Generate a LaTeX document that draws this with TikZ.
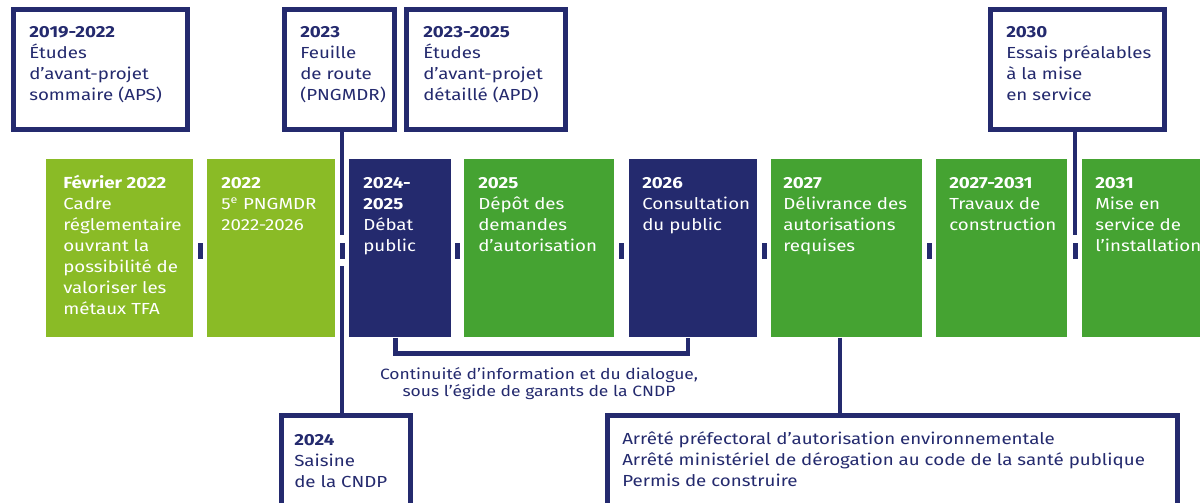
\documentclass[tikz,border=0pt]{standalone}
\usepackage{fontspec}
\setmainfont{Fira Sans}[FakeStretch=1.17]
\definecolor{navy}{RGB}{36,42,110}
\definecolor{lgreen}{RGB}{138,187,38}
\definecolor{dgreen}{RGB}{69,163,50}
\newcommand\fl{\rule{0pt}{13pt}}
\begin{document}
\begin{tikzpicture}[x=0.75pt,y=-0.75pt,
  txt/.style={anchor=north west,inner sep=0pt,align=left,font=\fontsize{12}{15.75}\selectfont},
  wtxt/.style={txt,text=white},
  ntxt/.style={txt,text=navy},
  outl/.style={draw=navy,line width=3.4pt,fill=white},
  conn/.style={draw=navy,line width=3.2pt},
  tick/.style={fill=navy,draw=none,minimum width=3.75pt,minimum height=12pt,inner sep=0pt},
  fbox/.style={draw=none,inner sep=0pt,anchor=north west,minimum height=133.5pt}]
\useasboundingbox (0,0) rectangle (1200,503);
% top outlined boxes
\node[outl,inner sep=0pt,anchor=north west,minimum width=130.5pt,minimum height=90pt] (A) at (11,7) {};
\node[outl,inner sep=0pt,anchor=north west,minimum width=82.5pt,minimum height=90pt] (B) at (282,7) {};
\node[outl,inner sep=0pt,anchor=north west,minimum width=119.25pt,minimum height=90pt] (C) at (404,7) {};
\node[outl,inner sep=0pt,anchor=north west,minimum width=130.5pt,minimum height=90pt] (D) at (988,7) {};
\node[ntxt] (tA) at (29,19.67) {\fl\textbf{2019-2022}\\Études\\d’avant-projet\\sommaire (APS)};
\node[ntxt] (tB) at (300,19.67) {\fl\textbf{2023}\\Feuille\\de route\\(PNGMDR)};
\node[ntxt] (tC) at (423,19.67) {\fl\textbf{2023-2025}\\Études\\d’avant-projet\\détaillé (APD)};
\node[ntxt] (tD) at (1006,19.67) {\fl\textbf{2030}\\Essais préalables\\à la mise\\en service};
% filled boxes
\node[fbox,fill=lgreen,minimum width=110.25pt] (b1) at (46,159) {};
\node[fbox,fill=lgreen,minimum width=96pt] (b2) at (207,159) {};
\node[fbox,fill=navy,minimum width=76.5pt] (b3) at (349,159) {};
\node[fbox,fill=dgreen,minimum width=112.5pt] (b4) at (464,159) {};
\node[fbox,fill=navy,minimum width=96pt] (b5) at (629,159) {};
\node[fbox,fill=dgreen,minimum width=113.25pt] (b6) at (771,159) {};
\node[fbox,fill=dgreen,minimum width=98.25pt] (b7) at (936,159) {};
\node[fbox,fill=dgreen,minimum width=90pt] (b8) at (1082,159) {};
\node[wtxt] (t1) at (63,170.67) {\fl\textbf{Février 2022}\\Cadre\\réglementaire\\ouvrant la\\possibilité de\\valoriser les\\métaux TFA};
\node[wtxt] (t2) at (221,170.67) {\fl\textbf{2022}\\5\textsuperscript{e} PNGMDR\\2022-2026};
\node[wtxt] (t3) at (363,170.67) {\fl\textbf{2024-}\\\textbf{2025}\\Débat\\public};
\node[wtxt] (t4) at (478,170.67) {\fl\textbf{2025}\\Dépôt des\\demandes\\d’autorisation};
\node[wtxt] (t5) at (642,170.67) {\fl\textbf{2026}\\Consultation\\du public};
\node[wtxt] (t6) at (783,170.67) {\fl\textbf{2027}\\Délivrance des\\autorisations\\requises};
\node[wtxt] (t7) at (949,170.67) {\fl\textbf{2027-2031}\\Travaux de\\construction};
\node[wtxt] (t8) at (1095,170.67) {\fl\textbf{2031}\\Mise en\\service de\\l’installation};
% ticks
\node[tick] (k1) at (200.5,251) {};
\node[tick] (k2) at (342,251) {};
\node[tick] (k3) at (457.5,251) {};
\node[tick] (k4) at (621.5,251) {};
\node[tick] (k5) at (764,251) {};
\node[tick] (k6) at (929.5,251) {};
\node[tick] (k7) at (1075,251) {};
% bottom outlined boxes
\node[outl,inner sep=0pt,anchor=north west,minimum width=96.75pt,minimum height=100pt] (E) at (279,413) {};
\node[outl,inner sep=0pt,anchor=north west,minimum width=427.5pt,minimum height=100pt] (F) at (605,413) {};
\node[ntxt] (tE) at (294,427.67) {\fl\textbf{2024}\\Saisine\\de la CNDP};
\node[ntxt] (tF) at (622,426.67) {\fl Arrêté préfectoral d’autorisation environnementale\\Arrêté ministériel de dérogation au code de la santé publique\\Permis de construire};
\node[txt,text=navy,anchor=north,align=center,font=\fontsize{11.2}{12.75}\selectfont] (tG) at (539,361.67) {\fl Continuité d’information et du dialogue,\\sous l’égide de garants de la CNDP};
% connectors
\coordinate (bT) at (342,235);
\coordinate (bU) at (342,266);
\coordinate (dT) at (1075,235);
\draw[conn] (B.south -| bT) -- (bT);
\draw[conn] (bU) -- (E.north -| bU);
\draw[conn] (D.south -| dT) -- (dT);
\draw[conn] (b6.south -| 840,0) -- (F.north -| 840,0);
\draw[conn] (b3.south -| 395.5,0) -- (395.5,353.5) -- (688,353.5) -- (b5.south -| 688,0);
\end{tikzpicture}
\end{document}
